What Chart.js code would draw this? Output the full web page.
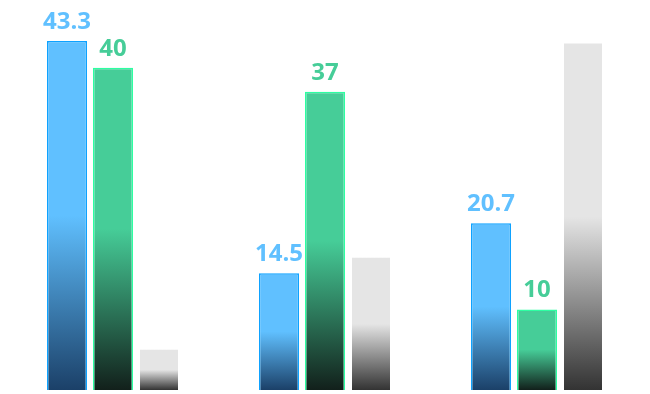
<!DOCTYPE html>
<html>
<head>
<meta charset="utf-8">
<script src="https://cdn.jsdelivr.net/npm/chart.js@4/dist/chart.umd.min.js"></script>
<style>
  html, body { margin: 0; padding: 0; background: #fff; }
  #wrap { width: 650px; height: 394px; }
</style>
</head>
<body>
<div id="wrap"><canvas id="chart"></canvas></div>
<script>
// datos
const categories = ['A', 'B', 'C'];
const blueValues = [43.3, 14.5, 20.7];
const greenValues = [40, 37, 10];
const greyValues = [5, 16.4, 43];

// color de arriba (mitad superior solida) y color del fondo de la barra
const blueColors = ['#60c0ff', '#1b4068'];
const greenColors = ['#46cd98', '#12201b'];
const greyColors = ['#e5e5e5', '#333333'];

// degradado por barra: solido hasta la mitad, luego oscurece hacia la base
function barGradient(colors) {
    return function (context) {
        const chart = context.chart;
        const { ctx, chartArea, scales } = chart;
        if (!chartArea || context.type !== 'data') return colors[0];
        const value = context.raw;
        const top = scales.y.getPixelForValue(value);
        const base = scales.y.getPixelForValue(0);
        if (!isFinite(top) || !isFinite(base) || base - top < 1) return colors[0];
        const g = ctx.createLinearGradient(0, top, 0, base);
        g.addColorStop(0, colors[0]);
        g.addColorStop(0.5, colors[0]);
        g.addColorStop(1, colors[1]);
        return g;
    };
}

// etiquetas encima de las barras azules y verdes
const valueLabels = {
    id: 'valueLabels',
    afterDatasetsDraw(chart) {
        const ctx = chart.ctx;
        ctx.save();
        ctx.font = 'bold 24px "Open Sans"';
        ctx.textAlign = 'center';
        ctx.textBaseline = 'alphabetic';
        chart.data.datasets.forEach((ds, i) => {
            if (!ds.showLabel) return;
            const meta = chart.getDatasetMeta(i);
            meta.data.forEach((bar, j) => {
                ctx.fillStyle = ds.labelColor;
                ctx.fillText(String(ds.data[j]), bar.x, bar.y - 12);
            });
        });
        ctx.restore();
    }
};

new Chart(document.getElementById('chart'), {
    type: 'bar',
    data: {
        labels: categories,
        datasets: [
            {
                data: blueValues,
                backgroundColor: barGradient(blueColors),
                borderColor: '#0ea2ff',
                borderWidth: 1.5,
                barPercentage: 0.87,
                showLabel: true,
                labelColor: '#60c0ff'
            },
            {
                data: greenValues,
                backgroundColor: barGradient(greenColors),
                borderColor: '#2cffa2',
                borderWidth: 1.5,
                barPercentage: 0.87,
                showLabel: true,
                labelColor: '#46cd98'
            },
            {
                data: greyValues,
                backgroundColor: barGradient(greyColors),
                borderWidth: 0,
                barPercentage: 0.826,
                showLabel: false
            }
        ]
    },
    options: {
        responsive: true,
        maintainAspectRatio: false,
        animation: false,
        categoryPercentage: 0.651,
        layout: { padding: { left: 7, right: 7, top: 0, bottom: 4 } },
        scales: {
            x: { display: false },
            y: { display: false, min: 0, max: 48.4 }
        },
        plugins: {
            legend: { display: false },
            tooltip: { enabled: false }
        }
    },
    plugins: [valueLabels]
});
</script>
</body>
</html>
